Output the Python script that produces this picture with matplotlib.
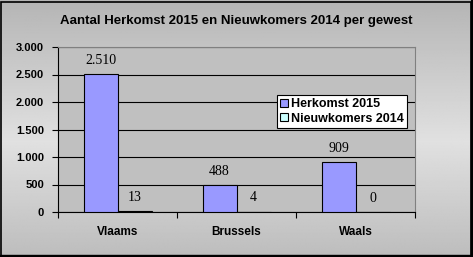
import matplotlib
matplotlib.use("Agg")
import matplotlib.pyplot as plt
import numpy as np
from matplotlib.ticker import FuncFormatter

categories = ["Vlaams", "Brussels", "Waals"]
herkomst_2015 = [2510, 488, 909]
nieuwkomers_2014 = [13, 4, 0]
series_names = ["Herkomst 2015", "Nieuwkomers 2014"]
yticks = [0, 500, 1000, 1500, 2000, 2500, 3000]

W, H = 473, 257
fig = plt.figure(figsize=(W / 100, H / 100), dpi=100)

# background gradient
bg = fig.add_axes([0, 0, 1, 1])
bg.set_axis_off()
t = np.linspace(0, 1, 256)
prof = 1 - np.abs(t - 0.55) / 0.55
vals = 0.71 + 0.17 * np.clip(prof, 0, 1)
grad = np.tile(vals[:, None], (1, 10))
bg.imshow(grad, cmap="gray", vmin=0, vmax=1, aspect="auto", extent=[0, 1, 0, 1])
bg.set_xlim(0, 1); bg.set_ylim(0, 1)
bg.add_patch(plt.Rectangle((0.5 / W, 0.5 / H), 1 - 2.5 / W, 1 - 2.5 / H, fill=False,
                           edgecolor="black", linewidth=1.2, transform=bg.transAxes))
bg.add_patch(plt.Rectangle((1 - 2 / W, 0), 2 / W, 1, color="black", transform=bg.transAxes))
bg.add_patch(plt.Rectangle((0, 0), 1, 2 / H, color="black", transform=bg.transAxes))

left, right, top, bottom = 58, 415, 47, 212
ax = fig.add_axes([left / W, 1 - bottom / H, (right - left) / W, (bottom - top) / H])
ax.set_facecolor("#C0C0C0")

x = np.arange(len(categories))
bw = 1 / 3.5
b1 = ax.bar(x - bw / 2, herkomst_2015, bw, color="#9999FF", edgecolor="black", linewidth=0.8,
            label=series_names[0], zorder=3)
b2 = ax.bar(x + bw / 2, nieuwkomers_2014, bw, color="#CCFFFF", edgecolor="black", linewidth=0.8,
            label=series_names[1], zorder=3)

for bars, vals_ in ((b1, herkomst_2015), (b2, nieuwkomers_2014)):
    for r, v in zip(bars, vals_):
        ax.annotate(f"{v:,}".replace(",", "."), (r.get_x() + r.get_width() / 2, v),
                    xytext=(0, 10), textcoords="offset points", ha="center", va="center",
                    fontsize=10, family="Liberation Serif", zorder=4)

ax.set_xlim(-0.5, 2.5)
ax.set_ylim(0, 3000)
ax.set_yticks(yticks)
ax.yaxis.set_major_formatter(FuncFormatter(lambda v, p: f"{int(v):,}".replace(",", ".")))
ax.grid(axis="y", color="black", linewidth=0.8, zorder=1)
ax.set_xticks([-0.5, 0.5, 1.5, 2.5], minor=False)
ax.set_xticklabels([])
ax.set_xticks(x, minor=True)
ax.set_xticklabels(categories, minor=True)
ax.tick_params(axis="x", which="major", length=4, color="black", width=0.8, direction="out")
ax.tick_params(axis="x", which="minor", length=0, pad=10)
ax.tick_params(axis="y", length=4, width=0.8, pad=6)
for lab in ax.get_xticklabels(minor=True):
    lab.set_fontfamily("Liberation Sans")
    lab.set_fontweight("bold")
    lab.set_fontsize(8.5)
for lab in ax.get_yticklabels():
    lab.set_fontfamily("Liberation Sans")
    lab.set_fontweight("bold")
    lab.set_fontsize(8)
ax.spines["top"].set_color("#808080")
ax.spines["right"].set_color("#808080")
ax.spines["left"].set_color("black")
ax.spines["bottom"].set_color("black")
for s in ax.spines.values():
    s.set_linewidth(0.8)

leg = ax.legend(loc="upper left", bbox_to_anchor=((277 - left) / (right - left), 1 - (95 - top) / (bottom - top)),
                frameon=True, fancybox=False, edgecolor="black", facecolor="white", framealpha=1,
                handlelength=0.6, handleheight=0.6, handletextpad=0.25, borderpad=0.25,
                labelspacing=0.2, borderaxespad=0,
                prop={"family": "Liberation Sans", "weight": "bold", "size": 9})
leg.get_frame().set_linewidth(0.8)

fig.text(236 / W, 1 - 21 / H, "Aantal Herkomst 2015 en Nieuwkomers 2014 per gewest",
         ha="center", va="center", fontsize=9.5, fontweight="bold", family="Liberation Sans")

fig.savefig("out.png", dpi=100)
